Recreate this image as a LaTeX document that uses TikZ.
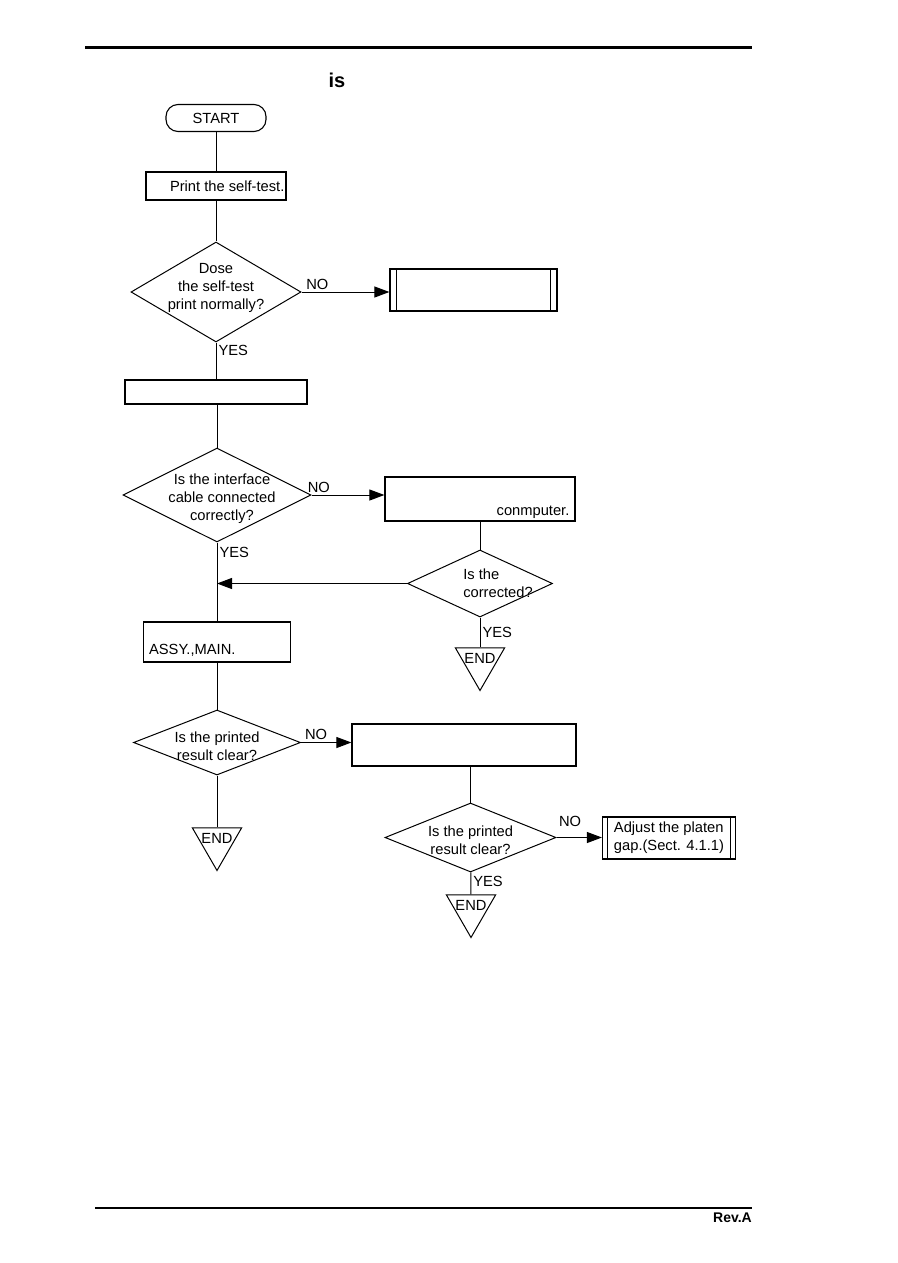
\documentclass[tikz,border=0pt]{standalone}
\usepackage{fontspec}
\setmainfont{Liberation Sans}
\usetikzlibrary{positioning,arrows.meta,shapes.geometric,calc}
\tikzset{
  txt/.style={font=\fontsize{14.7}{18}\selectfont,inner sep=2pt},
  lab/.style={txt,align=center},
  blk/.style={draw,line width=1.2pt,inner sep=0pt,txt},
  pre/.style={blk},
  dec/.style={diamond,draw,line width=1pt,inner sep=0pt},
  term/.style={draw,line width=1.1pt,rounded corners=12pt,minimum width=100,minimum height=27,txt},
  stop/.style={regular polygon,regular polygon sides=3,shape border rotate=180,draw,line width=1pt,inner sep=0pt,minimum size=57},
  arr/.style={-{Triangle[length=15pt,width=11pt]},line width=1pt},
  con/.style={line width=1pt},
  bar/.style={line width=1pt},
  rule/.style={line width=3pt},
}
\begin{document}
\begin{tikzpicture}[x=1pt,y=-1pt]
\useasboundingbox (0,0) rectangle (897,1263);
% page rules
\draw[rule] (85,48) -- (752,48);
\node[txt,font=\bfseries\fontsize{20}{24}\selectfont] (hd) at (337,80) {is};
% main column
\node[term] (start) at (216,118) {START};
\node[blk,minimum width=140,minimum height=28,label={[txt,anchor=east]east:Print the self-test.}] (selft) at (216,186) {};
\node[dec,minimum width=170,minimum height=100,label={[lab,yshift=4]center:Dose\\the self-test\\print normally?}] (q1) at (216,292) {};
\node[pre,minimum width=167,minimum height=42] (svc) at (473.5,290) {};
\node[blk,minimum width=182,minimum height=24] (chk) at (216,392) {};
\node[dec,minimum width=188,minimum height=94,label={[lab,xshift=5,yshift=-4]center:Is the interface\\cable connected\\correctly?}] (q2) at (217,495) {};
\node[blk,minimum width=190,minimum height=44,label={[txt,anchor=south east,xshift=-4,yshift=1]south east:conmputer.}] (cbl) at (480,499) {};
\node[dec,minimum width=145,minimum height=67,label={[txt,align=left,xshift=18]center:Is the\\corrected?}] (q3) at (480,583.5) {};
\node[stop,label={[txt,yshift=4]center:END}] (end1) at (480,662) {};
\node[blk,minimum width=147,minimum height=40,label={[txt,anchor=south west,xshift=4,yshift=4]south west:ASSY.,MAIN.}] (mainb) at (217,642) {};
\node[dec,minimum width=167,minimum height=65,label={[lab,yshift=-4]center:Is the printed\\result clear?}] (q4) at (217,742.5) {};
\node[stop,label={[txt,yshift=4]center:END}] (end2) at (217,842) {};
\node[blk,minimum width=224,minimum height=42] (adj) at (464,745) {};
\node[dec,minimum width=171,minimum height=69,label={[lab,yshift=-3]center:Is the printed\\result clear?}] (q5) at (470.5,837.5) {};
\node[pre,minimum width=133,minimum height=42,align=left] (gap) at (669,838) {Adjust the platen\\gap.(Sect. 4.1.1)};
\node[stop,label={[txt,yshift=4]center:END}] (end3) at (471,909) {};
% double bars of the predefined steps
\foreach \n/\d in {svc/7,gap/6} {
  \draw[bar] ([xshift=\d]\n.north west) -- ([xshift=\d]\n.south west);
  \draw[bar] ([xshift=-\d]\n.north east) -- ([xshift=-\d]\n.south east);
}
% connectors
\draw[con] (start) -- (start |- selft.north);
\draw[con] (selft) -- (q1);
\draw[arr] (q1.east) -- node[txt,above,pos=0.18]{NO} (q1.east -| svc.west);
\draw[con] (q1) -- node[txt,right,pos=0.22]{YES} (chk);
\draw[con] (chk.south -| q2.north) -- (q2);
\draw[arr] (q2.east) -- node[txt,above,pos=0.1]{NO} (q2.east -| cbl.west);
\draw[con] (q2) -- node[txt,right,pos=0.12]{YES} (mainb);
\draw[con] (cbl) -- (q3);
\draw[arr] (q3.west) -- (q3.west -| q2.south);
\draw[con] (q3) -- node[txt,right,pos=0.5]{YES} (end1);
\draw[con] (mainb) -- (q4);
\draw[arr] (q4.east) -- node[txt,above,pos=0.3]{NO} (q4.east -| adj.west);
\draw[con] (q4) -- (end2);
\draw[con] (q5.north |- adj.south) -- (q5.north);
\draw[arr] (q5.east) -- node[txt,above,pos=0.3,yshift=8]{NO} (q5.east -| gap.west);
\draw[con] (q5) -- node[txt,right,pos=0.4]{YES} (end3);
% footer
\draw[line width=2.5pt] (95,1208) -- (752,1208);
\node[font=\bfseries\fontsize{14}{16}\selectfont,anchor=east,inner sep=0pt] (rev) at (752,1218) {Rev.A};
\end{tikzpicture}
\end{document}
